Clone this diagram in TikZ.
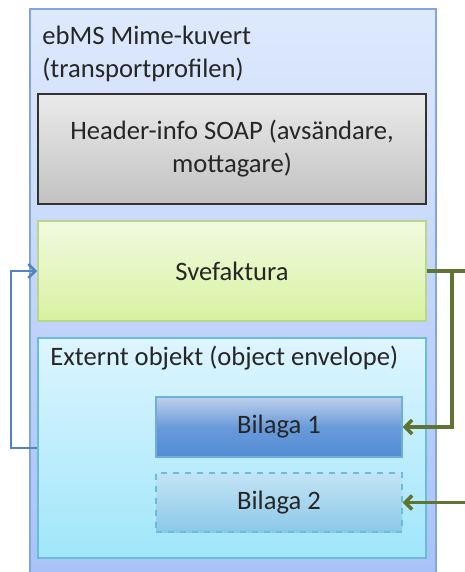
\documentclass[tikz,border=0pt]{standalone}
\usepackage{fontspec}
\setmainfont{Carlito}
\usetikzlibrary{arrows.meta}

\def\h{0.5pt}
\def\punkt#1#2{({(#1)*\h},{(-#2)*\h})}

\definecolor{kuvertrand}{RGB}{130,165,220}
\definecolor{kuvertoben}{RGB}{222,233,252}
\definecolor{kuvertunten}{RGB}{165,192,248}
\definecolor{kopfrand}{RGB}{50,50,50}
\definecolor{fakturarand}{RGB}{185,215,140}
\definecolor{objektrand}{RGB}{105,190,215}
\definecolor{bilagarand}{RGB}{110,175,215}
\definecolor{blaupfeil}{RGB}{85,130,195}
\definecolor{gruenpfeil}{RGB}{95,115,50}

\tikzset{
	kasten/.style={draw, rectangle, inner sep=0pt, align=center,
		text=black!85},
	blau/.style={color=blaupfeil, line width=1.3pt},
	gruen/.style={color=gruenpfeil, line width=1.7pt},
}

\begin{document}
\begin{tikzpicture}[>={Straight Barb[length=3.5pt,width=7pt]},
	every node/.style={font=\fontsize{13.3}{16.5}\selectfont}]
\clip (0,0) rectangle \punkt{465}{572};
% aeusseres Kuvert
\node[kasten, draw=kuvertrand, line width=1pt,
	top color=kuvertoben, bottom color=kuvertunten,
	minimum width={406*\h}, minimum height={600*\h}]
	(kuvert) at \punkt{233}{309} {};
\node[anchor=north west, align=left, inner sep=0pt, text=black!85]
	(titel) at \punkt{42}{26} {ebMS Mime-kuvert\\(transportprofilen)};
% Kopf
\node[kasten, draw=kopfrand, line width=1.1pt,
	top color=black!8, bottom color=black!24,
	minimum width={388*\h}, minimum height={110*\h}]
	(kopf) at \punkt{232}{149} {Header-info SOAP (avsändare,\\mottagare)};
% Svefaktura
\node[kasten, draw=fakturarand, line width=0.9pt,
	top color={rgb,255:red,242;green,250;blue,225},
	bottom color={rgb,255:red,215;green,242;blue,160},
	minimum width={388*\h}, minimum height={100*\h}]
	(faktura) at \punkt{232}{271} {Svefaktura};
% Externt objekt
\node[kasten, draw=objektrand, line width=0.9pt,
	top color={rgb,255:red,222;green,245;blue,255},
	bottom color={rgb,255:red,160;green,230;blue,250},
	minimum width={388*\h}, minimum height={220*\h}]
	(objekt) at \punkt{232}{448} {};
\node[anchor=west, inner sep=0pt, text=black!85]
	(objekttext) at \punkt{50}{358} {Externt objekt (object envelope)};
% Bilagor
\node[kasten, draw=bilagarand, line width=0.7pt,
	top color={rgb,255:red,190;green,208;blue,235},
	bottom color={rgb,255:red,82;green,140;blue,212},
	middle color={rgb,255:red,105;green,155;blue,218},
	minimum width={246*\h}, minimum height={60*\h}]
	(bilaga1) at \punkt{279}{427} {Bilaga 1};
\node[kasten, draw=objektrand, line width=0.7pt, dashed,
	top color={rgb,255:red,195;green,228;blue,245},
	bottom color={rgb,255:red,140;green,200;blue,232},
	minimum width={246*\h}, minimum height={59*\h}]
	(bilaga2) at \punkt{279}{502.5} {Bilaga 2};
% Pfeile
\path ({470*\h},{-271*\h}) coordinate (rand1)
	({452*\h},{-271*\h}) coordinate (knick)
	({470*\h},{-502.5*\h}) coordinate (rand2);
\draw[blau,->] (objekt.west) -- ++({-26*\h},0) |- (faktura.west);
\draw[gruen] (faktura.east) -- (rand1);
\draw[gruen,->] (knick) |- (bilaga1.east);
\draw[gruen,->] (rand2) -- (bilaga2.east);
\end{tikzpicture}
\end{document}
